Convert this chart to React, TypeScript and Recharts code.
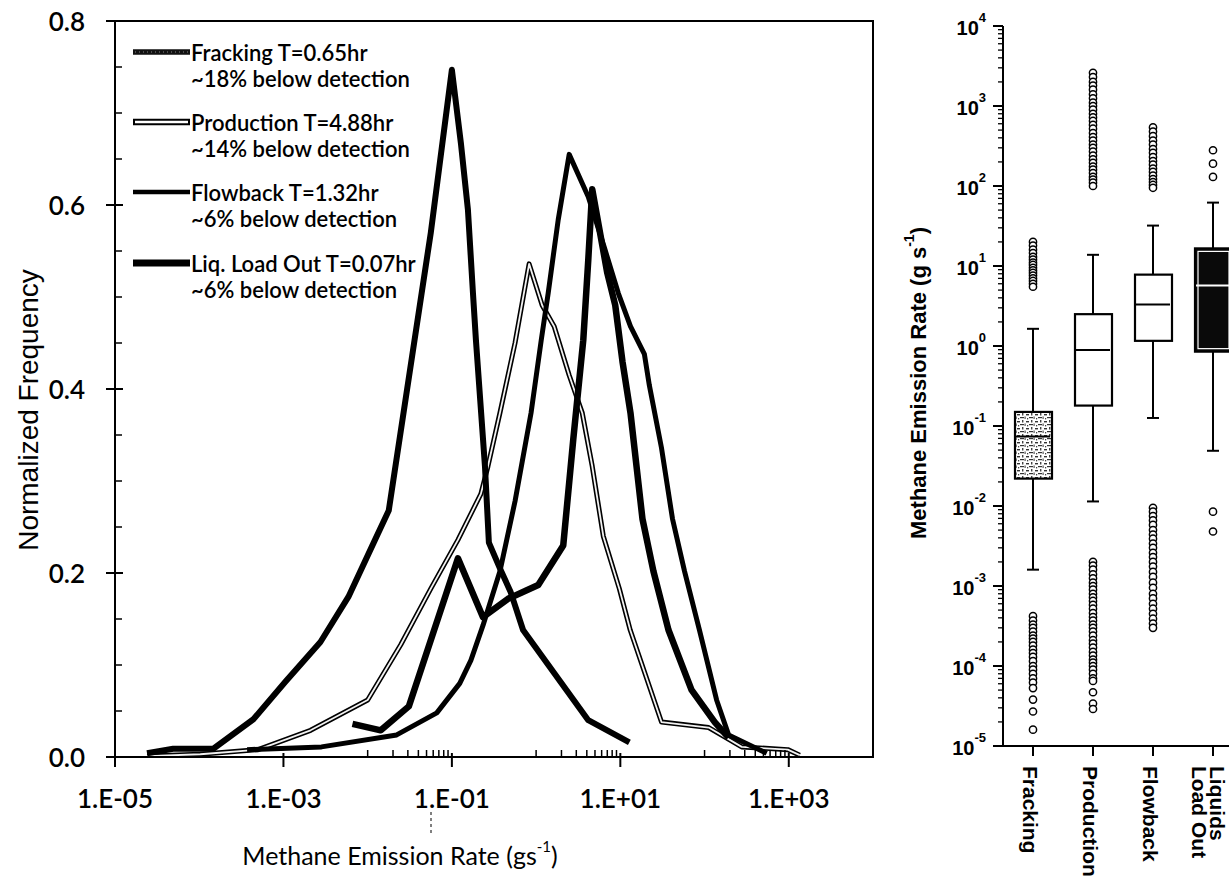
import React from 'react';
import { ComposedChart, Line, XAxis, YAxis, Bar, Scatter, ReferenceArea } from 'recharts';

// ---------- Left panel: normalized frequency vs methane emission rate ----------
const frackingX = [2.4e-5, 4.9e-5, 1.47e-4, 4.4e-4, 1.06e-3, 2.75e-3, 5.9e-3, 0.0118, 0.0178, 0.0562, 0.1, 0.128, 0.155, 0.178, 0.193, 0.247, 0.275, 0.372, 0.5, 0.7, 4.16, 12.8];
const frackingY = [0.004, 0.009, 0.009, 0.041, 0.082, 0.125, 0.174, 0.233, 0.268, 0.57, 0.747, 0.667, 0.595, 0.504, 0.453, 0.316, 0.233, 0.205, 0.179, 0.138, 0.04, 0.016];

const productionX = [2.4e-5, 1.03e-4, 5.0e-4, 2.1e-3, 0.01, 0.0247, 0.0562, 0.118, 0.221, 0.268, 0.372, 0.562, 0.826, 1.18, 1.64, 2.47, 3.53, 4.64, 6.28, 9.73, 13.1, 30.8, 112, 276, 973, 1350];
const productionY = [0.001, 0.003, 0.008, 0.029, 0.062, 0.122, 0.183, 0.236, 0.286, 0.316, 0.374, 0.45, 0.536, 0.491, 0.468, 0.415, 0.374, 0.316, 0.24, 0.183, 0.138, 0.038, 0.032, 0.011, 0.008, 0.002];

const flowbackX = [3.7e-4, 2.83e-3, 0.0221, 0.0662, 0.124, 0.168, 0.234, 0.372, 0.562, 0.871, 1.15, 1.39, 1.83, 2.47, 4.16, 6.45, 9.47, 13.2, 19.3, 22.1, 30.8, 41.6, 57.8, 87, 139, 193, 547];
const flowbackY = [0.008, 0.011, 0.024, 0.048, 0.08, 0.105, 0.143, 0.202, 0.278, 0.374, 0.453, 0.504, 0.584, 0.655, 0.609, 0.554, 0.504, 0.468, 0.438, 0.404, 0.336, 0.259, 0.202, 0.138, 0.062, 0.024, 0.004];

const liqX = [6.6e-3, 0.0143, 0.0308, 0.118, 0.234, 0.464, 1.06, 2.1, 2.76, 3.63, 4.16, 4.64, 7.0, 8.7, 10.6, 13.2, 18.3, 24.7, 37.3, 70, 132, 193];
const liqY = [0.036, 0.029, 0.055, 0.216, 0.152, 0.172, 0.187, 0.23, 0.345, 0.453, 0.54, 0.617, 0.526, 0.491, 0.43, 0.374, 0.259, 0.202, 0.138, 0.073, 0.038, 0.021];

const legendTitles = ['Fracking T=0.65hr', 'Production T=4.88hr', 'Flowback T=1.32hr', 'Liq. Load Out T=0.07hr'];
const legendNotes = ['~18% below detection', '~14% below detection', '~6% below detection', '~6% below detection'];

const leftXMajor = [1e-5, 1e-3, 1e-1, 1e1, 1e3];
const leftXMinor = [0.01, 0.02, 0.03, 0.04, 0.05, 0.06, 0.07, 0.08, 0.09, 1, 2, 3, 4, 5, 6, 7, 8, 9, 100, 200, 300, 400, 500, 600, 700, 800, 900];
const leftYTicks = [0, 0.05, 0.1, 0.15, 0.2, 0.25, 0.3, 0.35, 0.4, 0.45, 0.5, 0.55, 0.6, 0.65, 0.7, 0.75, 0.8];
const leftYMajor = [0, 0.2, 0.4, 0.6, 0.8];

// ---------- Right panel: box plot ----------
const boxCategories = ['Fracking', 'Production', 'Flowback', 'Liquids Load Out'];
const boxCategoryLines = [['Fracking'], ['Production'], ['Flowback'], ['Liquids', 'Load Out']];
const whiskerLow = [1.6e-3, 0.0114, 0.126, 0.049];
const whiskerHigh = [1.64, 13.8, 32, 62];
const quart1 = [0.022, 0.18, 1.16, 0.85];
const quart3 = [0.15, 2.5, 7.8, 16.6];
const medians = [0.074, 0.89, 3.3, 5.7];

const fracHigh = [20, 18, 16, 14.5, 13, 12, 11, 10.3, 9.5, 8.8, 8.2, 7.6, 7, 6.5, 6, 5.5];
const fracLow = [4.2e-4, 3.7e-4, 3.3e-4, 3e-4, 2.7e-4, 2.4e-4, 2.2e-4, 2e-4, 1.8e-4, 1.6e-4, 1.45e-4, 1.3e-4, 1.15e-4, 1e-4, 9e-5, 8e-5, 7e-5, 6.2e-5, 5.3e-5, 3.8e-5, 2.7e-5, 1.6e-5];
const prodHigh = [2600, 2300, 2000, 1800, 1600, 1400, 1250, 1100, 1000, 900, 800, 720, 650, 580, 520, 460, 410, 370, 330, 300, 270, 240, 215, 195, 175, 160, 145, 130, 120, 110, 100];
const prodLow = [2e-3, 1.8e-3, 1.6e-3, 1.4e-3, 1.25e-3, 1.1e-3, 1e-3, 9e-4, 8e-4, 7.2e-4, 6.5e-4, 5.8e-4, 5.2e-4, 4.6e-4, 4.1e-4, 3.7e-4, 3.3e-4, 3e-4, 2.7e-4, 2.4e-4, 2.1e-4, 1.9e-4, 1.7e-4, 1.5e-4, 1.35e-4, 1.2e-4, 1.1e-4, 1e-4, 9e-5, 8e-5, 7e-5, 6.5e-5, 4.7e-5, 3.4e-5, 2.9e-5];
const flowHigh = [540, 480, 420, 370, 330, 290, 260, 230, 205, 185, 165, 150, 135, 122, 112, 103, 95];
const flowLow = [9.5e-3, 8.5e-3, 7.5e-3, 6.6e-3, 5.8e-3, 5e-3, 4.4e-3, 3.9e-3, 3.4e-3, 3e-3, 2.6e-3, 2.3e-3, 2e-3, 1.75e-3, 1.5e-3, 1.3e-3, 1.1e-3, 9.5e-4, 8e-4, 7e-4, 6e-4, 5.2e-4, 4.5e-4, 3.9e-4, 3.4e-4, 3e-4];
const liqHigh = [280, 190, 130];
const liqLow = [8.5e-3, 4.8e-3];

const rightYMajor = [1e-5, 1e-4, 1e-3, 1e-2, 1e-1, 1, 10, 100, 1000, 10000];
const minorMultipliers = [2, 3, 4, 5, 6, 7, 8, 9];

// ---------- styles (kept apart from data) ----------
const boxFills = ['url(#speckle)', '#ffffff', '#ffffff', '#0a0a0a'];
const medianColors = ['#000', '#000', '#000', '#fff'];
const LEFT_FONT = 'Lato, "Open Sans", sans-serif';
const RIGHT_FONT = '"Liberation Sans", Arial, sans-serif';

// ---------- derived tables ----------
const pts = (xs: number[], ys: number[]) => xs.map((x, i) => ({ x, y: ys[i] }));
const frackingData = pts(frackingX, frackingY);
const productionData = pts(productionX, productionY);
const flowbackData = pts(flowbackX, flowbackY);
const liqData = pts(liqX, liqY);

const leftXTicks = [...leftXMajor, ...leftXMinor].sort((a, b) => a - b);
const leftXMajorSet = new Set(leftXMajor);
const leftYMajorSet = new Set(leftYMajor);

const rightYTicks: number[] = [];
rightYMajor.forEach((m, i) => {
  rightYTicks.push(m);
  if (i < rightYMajor.length - 1) minorMultipliers.forEach((k) => rightYTicks.push(m * k));
});
const rightYMajorSet = new Set(rightYMajor);

const boxData = boxCategories.map((name, i) => ({
  name,
  whisker: [whiskerLow[i], whiskerHigh[i]],
  box: [quart1[i], quart3[i]],
}));
const medianData = boxCategories.map((name, i) => ({ name, value: medians[i], idx: i }));
const outlierGroups = [
  [...fracHigh, ...fracLow],
  [...prodHigh, ...prodLow],
  [...flowHigh, ...flowLow],
  [...liqHigh, ...liqLow],
];
const outlierData = outlierGroups.flatMap((vals, i) => vals.map((v) => ({ name: boxCategories[i], value: v })));

const fmtE = (v: number) => {
  const e = Math.round(Math.log10(v));
  const s = e < 0 ? '-' : '+';
  return `1.E${s}${String(Math.abs(e)).padStart(2, '0')}`;
};

// ---------- tick renderers ----------
const LeftXTick = (props: any) => {
  const { x, y, payload } = props;
  const v = payload.value;
  if (leftXMajorSet.has(v)) {
    return (
      <g>
        <line x1={x} x2={x} y1={y - 4} y2={y + 10} stroke="#000" strokeWidth={2} />
        <text x={x} y={y + 41} textAnchor="middle" dominantBaseline="central" fontFamily={LEFT_FONT} fontWeight={600} fontSize={26} fill="#000">
          {fmtE(v)}
        </text>
      </g>
    );
  }
  return <line x1={x} x2={x} y1={y} y2={y - 7} stroke="#000" strokeWidth={1.5} />;
};

const LeftYTick = (props: any) => {
  const { x, y, payload } = props;
  const v = payload.value;
  if (leftYMajorSet.has(v)) {
    return (
      <g>
        <line x1={x - 9} x2={x + 8} y1={y} y2={y} stroke="#000" strokeWidth={2} />
        <text x={x - 30} y={y} textAnchor="end" dominantBaseline="central" fontFamily={LEFT_FONT} fontWeight={600} fontSize={26} fill="#000">
          {v.toFixed(1)}
        </text>
      </g>
    );
  }
  return <line x1={x} x2={x + 7} y1={y} y2={y} stroke="#000" strokeWidth={1.5} />;
};

const RightYTick = (props: any) => {
  const { x, y, payload } = props;
  const v = payload.value;
  if (!rightYMajorSet.has(v)) {
    return <line x1={x - 5} x2={x} y1={y} y2={y} stroke="#000" strokeWidth={1.3} />;
  }
  const e = Math.round(Math.log10(v));
  return (
    <g>
      <line x1={x - 10} x2={x} y1={y} y2={y} stroke="#000" strokeWidth={2} />
      <text x={x - 17} y={y + 2} textAnchor="end" dominantBaseline="central" fontFamily={RIGHT_FONT} fontWeight="bold" fontSize={20} fill="#000">
        10
        <tspan dy={-11} fontSize={13}>{e}</tspan>
      </text>
    </g>
  );
};

const RightXTick = (props: any) => {
  const { x, y, payload } = props;
  const idx = boxCategories.indexOf(payload.value);
  const lines = boxCategoryLines[idx] || [payload.value];
  const offsets = lines.length > 1 ? [4, -14] : [-3];
  return (
    <g>
      <line x1={x} x2={x} y1={y} y2={y + 10} stroke="#000" strokeWidth={2} />
      {lines.map((t, i) => (
        <text
          key={t}
          transform={`translate(${x + offsets[i]},${y + 20}) rotate(90)`}
          textAnchor="start"
          dominantBaseline="central"
          fontFamily={RIGHT_FONT}
          fontWeight="bold"
          fontSize={21}
          fill="#000"
        >
          {t}
        </text>
      ))}
    </g>
  );
};

// ---------- box plot shapes ----------
const WhiskerShape = (props: any) => {
  const { x, y, width, height } = props;
  const cx = x + width / 2;
  return (
    <g>
      <line x1={cx} x2={cx} y1={y} y2={y + height} stroke="#000" strokeWidth={2} />
      <line x1={cx - 6} x2={cx + 6} y1={y} y2={y} stroke="#000" strokeWidth={2} />
      <line x1={cx - 6} x2={cx + 6} y1={y + height} y2={y + height} stroke="#000" strokeWidth={2} />
    </g>
  );
};

const BoxShape = (props: any) => {
  const { x, y, width, height, index } = props;
  const dark = boxFills[index] === '#0a0a0a';
  return (
    <g>
      <rect x={x} y={y} width={width} height={height} fill={boxFills[index]} stroke="#000" strokeWidth={2.2} />
      {dark && <rect x={x + 3} y={y + 3} width={width - 6} height={height - 6} fill="none" stroke="#fff" strokeWidth={1.2} />}
    </g>
  );
};

const MedianShape = (props: any) => {
  const { cx, cy, payload } = props;
  return <line x1={cx - 17} x2={cx + 17} y1={cy} y2={cy} stroke={medianColors[payload.idx]} strokeWidth={2} />;
};

const OutlierShape = (props: any) => {
  const { cx, cy } = props;
  return <circle cx={cx} cy={cy} r={3.6} fill="#fff" stroke="#000" strokeWidth={1.5} />;
};

// ---------- legend ----------
const legendRowY = [52, 122, 192, 263];
const LegendSample = ({ i, y }: { i: number; y: number }) => {
  if (i === 0)
    return (
      <g>
        <line x1={133} x2={190} y1={y} y2={y} stroke="#111" strokeWidth={5.5} />
        <line x1={135} x2={188} y1={y} y2={y} stroke="#888" strokeWidth={1} strokeDasharray="1 3" />
      </g>
    );
  if (i === 1)
    return (
      <g>
        <line x1={133} x2={190} y1={y} y2={y} stroke="#000" strokeWidth={6.5} />
        <line x1={135} x2={188} y1={y} y2={y} stroke="#fff" strokeWidth={2.5} />
      </g>
    );
  return <line x1={133} x2={190} y1={y} y2={y} stroke="#000" strokeWidth={i === 2 ? 4.5 : 7} />;
};

export default function App() {
  return (
    <div style={{ position: 'absolute', left: 0, top: 0, width: 1229, height: 885, overflow: 'hidden', background: '#fff' }}>
      <svg width={0} height={0} style={{ position: 'absolute' }}>
        <defs>
          <pattern id="speckle" width={9} height={7} patternUnits="userSpaceOnUse">
            <rect width={9} height={7} fill="#fff" />
            <rect x={0} y={1} width={3} height={1.4} fill="#333" />
            <rect x={5} y={0} width={1.4} height={2.5} fill="#444" />
            <rect x={3} y={4} width={4} height={1.2} fill="#333" />
            <rect x={7.5} y={3.5} width={1.2} height={2.5} fill="#555" />
            <rect x={1} y={5} width={1.2} height={1.4} fill="#444" />
          </pattern>
        </defs>
      </svg>

      <div style={{ position: 'absolute', left: 0, top: 0 }}>
        <ComposedChart width={900} height={885} margin={{ top: 21, right: 27, bottom: 0, left: 0 }}>
          <XAxis
            dataKey="x"
            type="number"
            scale="log"
            domain={[1e-5, 1e4]}
            allowDataOverflow
            ticks={leftXTicks}
            interval={0}
            tickSize={0}
            tickMargin={0}
            tickLine={false}
            tick={<LeftXTick />}
            axisLine={{ stroke: '#000', strokeWidth: 2 }}
            height={128}
          />
          <YAxis
            type="number"
            domain={[0, 0.8]}
            allowDataOverflow
            ticks={leftYTicks}
            interval={0}
            tickSize={0}
            tickMargin={0}
            tickLine={false}
            tick={<LeftYTick />}
            axisLine={{ stroke: '#000', strokeWidth: 2 }}
            width={115}
          />
          <ReferenceArea x1={1e-5} x2={1e4} y1={0} y2={0.8} fill="none" fillOpacity={0} stroke="#000" strokeWidth={2} />
          <Line data={productionData} dataKey="y" type="linear" stroke="#000" strokeWidth={5} dot={false} isAnimationActive={false} strokeLinejoin="round" />
          <Line data={productionData} dataKey="y" type="linear" stroke="#f2f2f2" strokeWidth={1.8} dot={false} isAnimationActive={false} strokeLinejoin="round" />
          <Line data={flowbackData} dataKey="y" type="linear" stroke="#000" strokeWidth={5} dot={false} isAnimationActive={false} strokeLinejoin="round" />
          <Line data={liqData} dataKey="y" type="linear" stroke="#000" strokeWidth={6.5} dot={false} isAnimationActive={false} strokeLinejoin="round" />
          <Line data={frackingData} dataKey="y" type="linear" stroke="#000" strokeWidth={6} dot={false} isAnimationActive={false} strokeLinejoin="round" />
        </ComposedChart>
      </div>

      <div style={{ position: 'absolute', left: 900, top: 0 }}>
        <ComposedChart width={343} height={885} data={boxData} margin={{ top: 26, right: 0, bottom: 0, left: 0 }}>
          <XAxis
            xAxisId="main"
            dataKey="name"
            type="category"
            allowDuplicatedCategory={false}
            interval={0}
            tickSize={0}
            tickMargin={0}
            tickLine={false}
            tick={<RightXTick />}
            axisLine={{ stroke: '#000', strokeWidth: 2 }}
            height={139}
          />
          <XAxis xAxisId="w" dataKey="name" type="category" allowDuplicatedCategory={false} hide />
          <YAxis
            type="number"
            scale="log"
            domain={[1e-5, 1e4]}
            allowDataOverflow
            ticks={rightYTicks}
            interval={0}
            tickSize={0}
            tickMargin={0}
            tickLine={false}
            tick={<RightYTick />}
            axisLine={{ stroke: '#000', strokeWidth: 2 }}
            width={103}
          />
          <Bar xAxisId="w" dataKey="whisker" shape={<WhiskerShape />} isAnimationActive={false} />
          <Bar xAxisId="main" dataKey="box" barSize={37} shape={<BoxShape />} isAnimationActive={false} />
          <Scatter xAxisId="main" data={medianData} dataKey="value" shape={<MedianShape />} isAnimationActive={false} />
          <Scatter xAxisId="main" data={outlierData} dataKey="value" shape={<OutlierShape />} isAnimationActive={false} />
        </ComposedChart>
      </div>

      <svg width={1229} height={885} style={{ position: 'absolute', left: 0, top: 0, pointerEvents: 'none' }}>
        {legendTitles.map((t, i) => (
          <g key={t}>
            <LegendSample i={i} y={legendRowY[i]} />
            <text x={191} y={legendRowY[i]} dominantBaseline="central" fontFamily={LEFT_FONT} fontWeight={600} fontSize={22} fill="#000">
              {t}
            </text>
            <text x={191} y={legendRowY[i] + 26} dominantBaseline="central" fontFamily={LEFT_FONT} fontWeight={600} fontSize={22} fill="#000">
              {legendNotes[i]}
            </text>
          </g>
        ))}
        <text x={400} y={855} textAnchor="middle" dominantBaseline="central" fontFamily={LEFT_FONT} fontSize={25} fill="#000">
          Methane Emission Rate (gs
          <tspan dy={-9} fontSize={15}>-1</tspan>
          <tspan dy={9}>)</tspan>
        </text>
        <line x1={431} x2={431} y1={812} y2={836} stroke="#000" strokeWidth={1} strokeDasharray="3 3" />
        <text transform="translate(28,410) rotate(-90)" textAnchor="middle" dominantBaseline="central" fontFamily={'"Liberation Sans Narrow", "Liberation Sans", Arial, sans-serif'} fontSize={28} fill="#000">
          Normalized Frequency
        </text>
        <text transform="translate(918,383) rotate(-90)" textAnchor="middle" dominantBaseline="central" fontFamily={RIGHT_FONT} fontWeight="bold" fontSize={22} fill="#000">
          Methane Emission Rate (g s
          <tspan dy={-9} fontSize={14}>-1</tspan>
          <tspan dy={9}>)</tspan>
        </text>
      </svg>
    </div>
  );
}
